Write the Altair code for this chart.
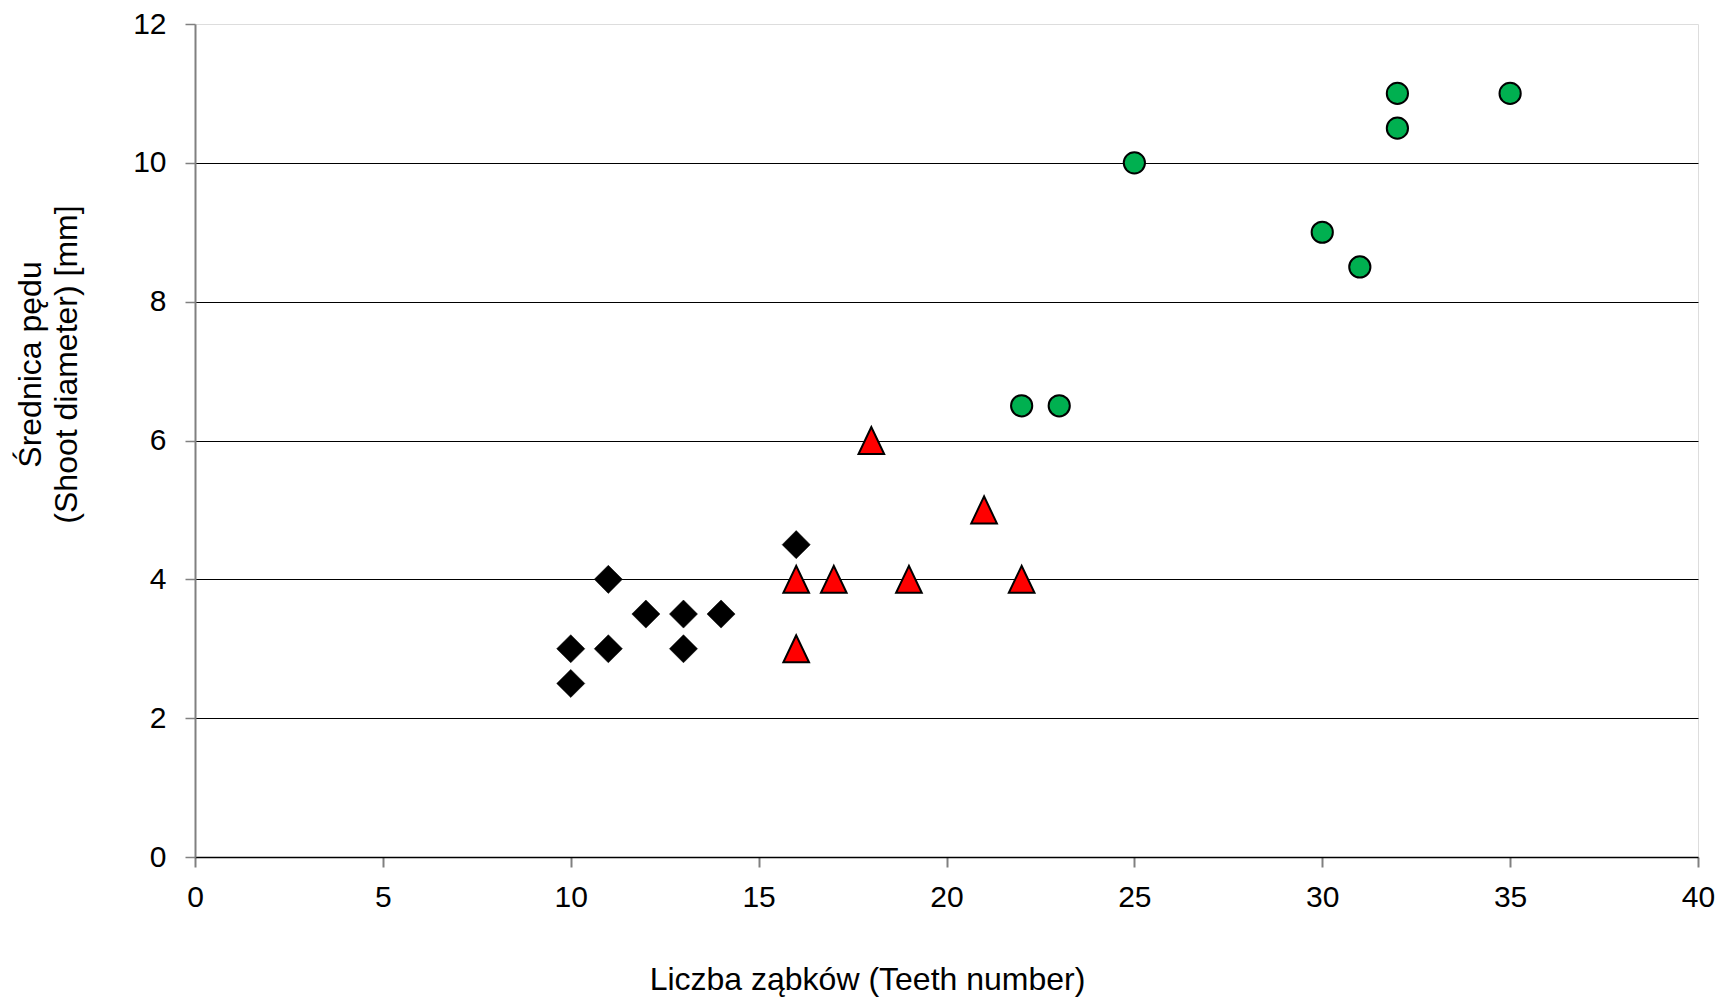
import altair as alt
import pandas as pd

# Black diamonds
black_x = [10, 10, 11, 11, 12, 13, 13, 14, 16]
black_y = [3, 2.5, 4, 3, 3.5, 3.5, 3, 3.5, 4.5]
# Red triangles
red_x = [16, 16, 17, 18, 19, 21, 22]
red_y = [4, 3, 4, 6, 4, 5, 4]
# Green circles
green_x = [22, 23, 25, 30, 31, 32, 32, 35]
green_y = [6.5, 6.5, 10, 9, 8.5, 11, 10.5, 11]

x_ticks = [0, 5, 10, 15, 20, 25, 30, 35, 40]
y_ticks = [0, 2, 4, 6, 8, 10, 12]

FONT = "Liberation Sans"

df_black = pd.DataFrame({"x": black_x, "y": black_y})
df_red = pd.DataFrame({"x": red_x, "y": red_y})
df_green = pd.DataFrame({"x": green_x, "y": green_y})

xs = alt.Scale(domain=[0, 40], nice=False, zero=True)
ys = alt.Scale(domain=[0, 12], nice=False, zero=True)

x_axis = alt.Axis(
    values=x_ticks, format="d", grid=False, domainColor="black", domainWidth=1.3,
    tickColor="#808080", tickWidth=2, tickSize=10,
    labelFont=FONT, labelFontSize=30, labelColor="black", labelPadding=15,
    labelFlush=False,
    title="Liczba ząbków (Teeth number)", titleFont=FONT, titleFontSize=32,
    titleFontWeight="normal", titleColor="black",
    titleX=672, titleY=132, titleBaseline="alphabetic", titleAnchor="middle",
)
y_axis = alt.Axis(
    values=y_ticks, format="d", grid=True, gridColor="black", gridWidth=1,
    gridOpacity={"condition": {"test": "datum.value === 0 || datum.value === 12", "value": 0}, "value": 1},
    domainColor="#808080", domainWidth=2,
    tickColor="#808080", tickWidth=1.5, tickSize=10,
    labelFont=FONT, labelFontSize=30, labelColor="black", labelPadding=19,
    labelFlush=False,
    title=["Średnica pędu", "(Shoot diameter) [mm]"], titleFont=FONT,
    titleFontSize=32, titleFontWeight="normal", titleColor="black",
    titleAngle=270, titleX=-155, titleY=340, titleBaseline="alphabetic",
    titleAlign="center", titleLineHeight=36.5,
)

base_x = alt.X("x:Q", scale=xs, axis=x_axis)
base_y = alt.Y("y:Q", scale=ys, axis=y_axis)

black = alt.Chart(df_black).mark_point(
    shape="diamond", filled=True, fill="black", stroke="black", strokeWidth=0.5,
    size=790, opacity=1
).encode(x=base_x, y=base_y)

red = alt.Chart(df_red).mark_point(
    shape="M0,-1L-0.95,1L0.95,1Z", filled=True, fill="#FF0000", stroke="black",
    strokeWidth=2, size=730, opacity=1
).encode(x="x:Q", y="y:Q")

green = alt.Chart(df_green).mark_point(
    shape="circle", filled=True, fill="#00B050", stroke="black",
    strokeWidth=2, size=450, opacity=1
).encode(x="x:Q", y="y:Q")

chart = alt.layer(black, red, green).properties(
    width=1503, height=833,
    autosize=alt.AutoSizeParams(type="none"),
    padding={"left": 187, "top": 16, "right": 17, "bottom": 140},
).configure_view(stroke=None).configure(background="white")

chart.save("out.html", embed_options={"renderer": "svg", "actions": False})
